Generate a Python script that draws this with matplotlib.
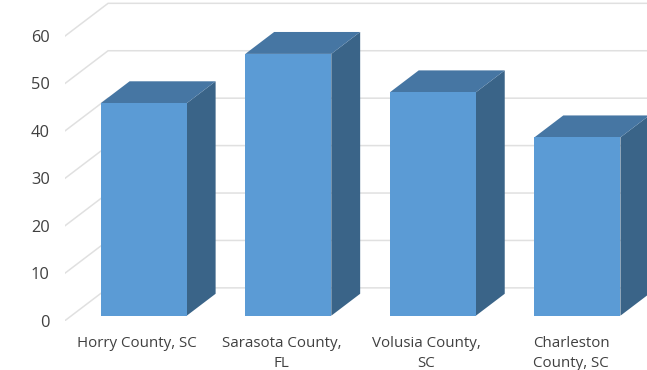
import matplotlib
matplotlib.use("Agg")
import matplotlib.pyplot as plt
from matplotlib.patches import Polygon

categories = ["Horry County, SC", "Sarasota County,\nFL", "Volusia County,\nSC", "Charleston\nCounty, SC"]
values = [44.8, 55.2, 47.1, 37.6]
y_ticks = [0, 10, 20, 30, 40, 50, 60]

FRONT = "#5B9BD5"
TOP = "#4676A3"
SIDE = "#3A6488"
GRID = "#E0E0E0"
TEXT = "#404040"

# 3d look: depth of the floor in data units (x = categories, y = values)
DEPTH_X = 0.298
DEPTH_Y = 6.9
BAR_W = 0.595
D0, D1 = 0.15, 0.82  # where the bar starts/ends along the depth


def shift(x, y, d):
    return (x + DEPTH_X * d, y + DEPTH_Y * d)


def main():
    plt.rcParams["font.family"] = ["Open Sans", "DejaVu Sans"]
    fig = plt.figure(figsize=(6.47, 3.70), dpi=100)
    ax = fig.add_axes([65 / 647, 1 - 320.6 / 370, 582 / 647, 320.6 / 370])
    ax.set_xlim(-0.5, 3.526)
    ax.set_ylim(0, 67.6)
    for s in ax.spines.values():
        s.set_visible(False)

    # gridlines: wall diagonal + back line
    for t in y_ticks:
        ax.plot([-0.5, -0.5 + DEPTH_X, 3.526], [t, t + DEPTH_Y, t + DEPTH_Y],
                color=GRID, lw=1.1, zorder=1, solid_joinstyle="miter")

    for i, v in enumerate(values):
        l, r = i - BAR_W / 2, i + BAR_W / 2
        front = [shift(l, 0, D0), shift(r, 0, D0), shift(r, v, D0), shift(l, v, D0)]
        side = [shift(r, 0, D0), shift(r, 0, D1), shift(r, v, D1), shift(r, v, D0)]
        top = [shift(l, v, D0), shift(r, v, D0), shift(r, v, D1), shift(l, v, D1)]
        ax.add_patch(Polygon(side, fc=SIDE, ec="none", zorder=3, clip_on=False))
        ax.add_patch(Polygon(top, fc=TOP, ec="none", zorder=3, clip_on=False))
        ax.add_patch(Polygon(front, fc=FRONT, ec="none", zorder=4, clip_on=False))

    ax.set_xticks(range(len(categories)))
    ax.set_xticklabels(categories, fontsize=10.9, color=TEXT, linespacing=1.45)
    ax.set_yticks(y_ticks)
    ax.tick_params(axis="x", length=0, pad=11)
    ax.tick_params(axis="y", length=0, pad=11, labelsize=11.8, labelcolor=TEXT)

    fig.savefig("out.png", dpi=100)


if __name__ == "__main__":
    main()
